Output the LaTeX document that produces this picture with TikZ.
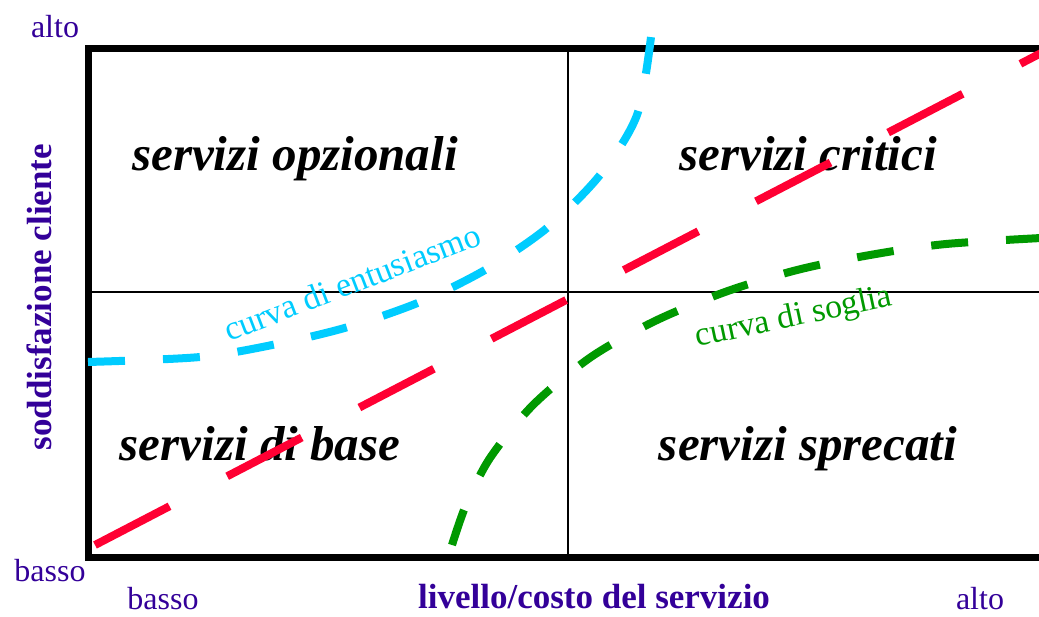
\documentclass[tikz,border=0pt]{standalone}
\usepackage{fontspec}
\setmainfont{Liberation Serif}
\usepackage{xcolor}
\usepackage{tikz}
\usetikzlibrary{positioning, calc}

\definecolor{axisviolet}{RGB}{51,0,153}
\definecolor{entcyan}{RGB}{0,204,255}
\definecolor{diagred}{RGB}{255,0,51}
\definecolor{soggreen}{RGB}{0,153,0}

\begin{document}
\begin{tikzpicture}[
    x=0.5pt, y=-0.5pt,
    quad/.style={font=\fontsize{24.5}{28}\selectfont\bfseries\itshape, anchor=base, inner sep=0pt},
    axislbl/.style={text=axisviolet, font=\fontsize{16}{18}\selectfont, inner sep=0pt},
    axistitle/.style={text=axisviolet, font=\fontsize{17.5}{20}\selectfont\bfseries, inner sep=0pt},
    curvelbl/.style={font=\fontsize{17}{19}\selectfont, inner sep=0pt},
    curve/.style={line width=4pt, line cap=butt},
    shortdash/.style={dash pattern=on 18.5pt off 19pt},
    longdash/.style={dash pattern=on 42pt off 32.5pt},
]
\useasboundingbox (0,0) rectangle (1039,616);
\clip (0,0) rectangle (1039,616);

% Frame and quadrants
\coordinate (nw) at (88,48);
\coordinate (se) at (1070,557);
\coordinate (topmid) at (568,48);
\coordinate (botmid) at (568,557);
\coordinate (leftmid) at (88,292);
\coordinate (rightmid) at (1070,292);
\draw[line width=1pt] (topmid) -- (botmid);
\draw[line width=1pt] (leftmid) -- (rightmid);
\draw[line width=3.5pt] (nw) rectangle (se);

% Quadrant labels
\node[quad] (opz) at (295,170) {servizi opzionali};
\node[quad] (crit) at (808,170) {servizi critici};
\node[quad] (base) at (260,460) {servizi di base};
\node[quad] (spre) at (808,460) {servizi sprecati};

% Diagonal (red)
\coordinate (r0) at (95,545);
\coordinate (r1) at (1070,38);
\draw[curve, longdash, diagred] (r0) -- (r1);

% Curva di entusiasmo
\coordinate (e0) at (88,362);
\coordinate (e1) at (200,357);
\coordinate (e2) at (277,344);
\coordinate (e3) at (348,327);
\coordinate (e4) at (420,302);
\coordinate (e5) at (485,270);
\coordinate (e6) at (547,228);
\coordinate (e7) at (600,175);
\coordinate (e8) at (637,115);
\coordinate (e9) at (651,37);
\draw[curve, shortdash, entcyan] plot[smooth, tension=0.5] coordinates {(e0) (e1) (e2) (e3) (e4) (e5) (e6) (e7) (e8) (e9)};

% Curva di soglia
\coordinate (s0) at (452,545);
\coordinate (s1) at (466,505);
\coordinate (s2) at (490,458);
\coordinate (s3) at (533,405);
\coordinate (s4) at (591,357);
\coordinate (s5) at (655,321);
\coordinate (s6) at (725,292);
\coordinate (s7) at (797,270);
\coordinate (s8) at (870,255);
\coordinate (s9) at (946,244);
\coordinate (s10) at (1060,237);
\draw[curve, shortdash, soggreen] plot[smooth, tension=0.5] coordinates {(s0) (s1) (s2) (s3) (s4) (s5) (s6) (s7) (s8) (s9) (s10)};

% Curve labels
\node[curvelbl, entcyan, rotate=21] (entlbl) at (352,282) {curva di entusiasmo};
\node[curvelbl, soggreen, rotate=12] (soglbl) at (794,318) {curva di soglia};

% Axis labels
\node[axislbl] (yhigh) at (55,27) {alto};
\node[axislbl] (ylow) at (50,571) {basso};
\node[axislbl] (xlow) at (163,599) {basso};
\node[axislbl] (xhigh) at (980,599) {alto};
\node[axistitle] (xtitle) at (594,597) {livello/costo del servizio};
\node[axistitle, rotate=90] (ytitle) at (39,297) {soddisfazione cliente};

\end{tikzpicture}
\end{document}
